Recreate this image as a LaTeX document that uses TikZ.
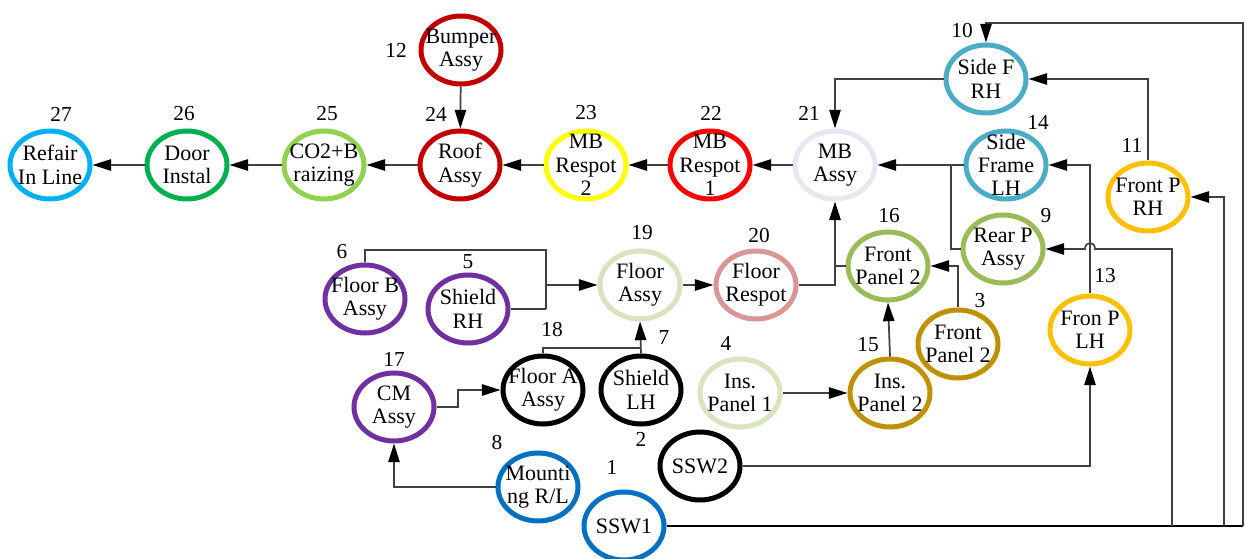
\documentclass[tikz,border=0pt]{standalone}
\usepackage{fontspec}
\setmainfont{Liberation Serif}
\usetikzlibrary{shapes.geometric,arrows.meta}
\definecolor{cCyan}{HTML}{00B0F0}
\definecolor{cGreen}{HTML}{00B050}
\definecolor{cLGreen}{HTML}{92D050}
\definecolor{cDRed}{HTML}{C00000}
\definecolor{cYellow}{HTML}{FFFF00}
\definecolor{cRed}{HTML}{FF0000}
\definecolor{cLav}{RGB}{232,230,240}
\definecolor{cTeal}{HTML}{4BACC6}
\definecolor{cOrange}{HTML}{FFC000}
\definecolor{cOlive}{HTML}{9BBB59}
\definecolor{cPale}{HTML}{D7E4BD}
\definecolor{cPink}{HTML}{D99694}
\definecolor{cPurple}{HTML}{7030A0}
\definecolor{cGold}{HTML}{BF9000}
\definecolor{cBlue}{HTML}{0070C0}
\definecolor{linegray}{HTML}{404040}
\begin{document}
\begin{tikzpicture}[x=0.75pt,y=-0.75pt,
  st/.style={ellipse, minimum width=60pt, minimum height=51pt, inner sep=0pt, line width=3.75pt},
  txt/.style={align=center, font=\fontsize{16.5}{17.5}\selectfont, inner sep=0pt},
  num/.style={font=\fontsize{16}{17}\selectfont, inner sep=0pt},
  conn/.style={draw=linegray, line width=1.3pt},
  arr/.style={conn, -{Triangle[length=14pt,width=8.5pt,color=black]}}]
\useasboundingbox (0,0) rectangle (1245,559);
\fill[white] (0,0) rectangle (1245,559);

% state ellipses
\node[st, draw=cCyan]   (n27) at (50,165) {};
\node[st, draw=cGreen]  (n26) at (187,165) {};
\node[st, draw=cLGreen] (n25) at (324,165) {};
\node[st, draw=cDRed]   (n24) at (460,165) {};
\node[st, draw=cDRed]   (n12) at (461,50) {};
\node[st, draw=cYellow] (n23) at (586,165) {};
\node[st, draw=cRed]    (n22) at (710,165) {};
\node[st, draw=cLav]    (n21) at (835,165) {};
\node[st, draw=cTeal]   (n10) at (986,79) {};
\node[st, draw=cTeal]   (n14) at (1006,165) {};
\node[st, draw=cOrange] (n11) at (1148,197) {};
\node[st, draw=cOlive]  (n9)  at (1003,249) {};
\node[st, draw=cOlive]  (n16) at (888,266) {};
\node[st, draw=cPale]   (n19) at (640,285) {};
\node[st, draw=cPink]   (n20) at (756,285) {};
\node[st, draw=cPurple] (n6)  at (365,299) {};
\node[st, draw=cPurple] (n5)  at (468,309) {};
\node[st, draw=cGold]   (n3)  at (958,344) {};
\node[st, draw=cOrange] (n13) at (1090,330) {};
\node[st, draw=cGold]   (n15) at (890,393) {};
\node[st, draw=cPale]   (n4)  at (740,393) {};
\node[st, draw=black]   (n18) at (543,390) {};
\node[st, draw=black]   (n7)  at (641,390) {};
\node[st, draw=cPurple] (n17) at (394,407) {};
\node[st, draw=cBlue]   (n8)  at (538,487) {};
\node[st, draw=black]   (n2)  at (700,466) {};
\node[st, draw=cBlue]   (n1)  at (624,526) {};

% texts
\node[txt] (t27) at (n27) {Refair\\In Line};
\node[txt] (t26) at (n26) {Door\\Instal};
\node[txt] (t25) at (n25) {CO2+B\\raizing};
\node[txt] (t24) at (n24) {Roof\\Assy};
\node[txt] (t12) at (n12) {Bumper\\Assy};
\node[txt] (t23) at (n23) {MB\\Respot\\2};
\node[txt] (t22) at (n22) {MB\\Respot\\1};
\node[txt] (t21) at (n21) {MB\\Assy};
\node[txt] (t10) at (n10) {Side F\\RH};
\node[txt] (t14) at (n14) {Side\\Frame\\LH};
\node[txt] (t11) at (n11) {Front P\\RH};
\node[txt] (t9)  at (n9)  {Rear P\\Assy};
\node[txt] (t16) at (n16) {Front\\Panel 2};
\node[txt] (t19) at (n19) {Floor\\Assy};
\node[txt] (t20) at (n20) {Floor\\Respot};
\node[txt] (t6)  at (n6)  {Floor B\\Assy};
\node[txt] (t5)  at (n5)  {Shield\\RH};
\node[txt] (t3)  at (n3)  {Front\\Panel 2};
\node[txt] (t13) at (n13) {Fron P\\LH};
\node[txt] (t15) at (n15) {Ins.\\Panel 2};
\node[txt] (t4)  at (n4)  {Ins.\\Panel 1};
\node[txt] (t18) at (n18) {Floor A\\Assy};
\node[txt] (t7)  at (n7)  {Shield\\LH};
\node[txt] (t17) at (n17) {CM\\Assy};
\node[txt] (t8)  at (n8)  {Mounti\\ng R/L};
\node[txt] (t2)  at (n2)  {SSW2};
\node[txt] (t1)  at (n1)  {SSW1};

% numbers
\node[num] (l27) at (61,114) {27};
\node[num] (l26) at (184,114) {26};
\node[num] (l25) at (327,114) {25};
\node[num] (l24) at (436,114) {24};
\node[num] (l12) at (396,50) {12};
\node[num] (l23) at (586,113) {23};
\node[num] (l22) at (711,113) {22};
\node[num] (l21) at (809,113) {21};
\node[num] (l10) at (962,31) {10};
\node[num] (l14) at (1038,122) {14};
\node[num] (l11) at (1132,145) {11};
\node[num] (l9)  at (1046,216) {9};
\node[num] (l16) at (889,216) {16};
\node[num] (l19) at (642,233) {19};
\node[num] (l20) at (759,236) {20};
\node[num] (l6)  at (342,252) {6};
\node[num] (l5)  at (468,262) {5};
\node[num] (l18) at (552,330) {18};
\node[num] (l7)  at (664,338) {7};
\node[num] (l17) at (394,359) {17};
\node[num] (l4)  at (726,343) {4};
\node[num] (l15) at (868,345) {15};
\node[num] (l3)  at (980,301) {3};
\node[num] (l13) at (1105,276) {13};
\node[num] (l8)  at (497,443) {8};
\node[num] (l2)  at (641,439) {2};
\node[num] (l1)  at (612,467) {1};

% junction coordinates
\coordinate (cBR) at (1243,526);
\coordinate (cTR) at (1243,23);
\coordinate (jA) at (1224,526);
\coordinate (jB) at (1172,526);
\coordinate (jB2) at (1172,249);
\coordinate (hR) at (1095,249);
\coordinate (hL) at (1085,249);
\coordinate (k9) at (951,249);
\coordinate (k9b) at (951,165);
\coordinate (k16) at (835,266);
\coordinate (k6) at (546,250);
\coordinate (k5) at (546,309);
\coordinate (k19) at (546,285);
\coordinate (k18a) at (543,348);
\coordinate (k18) at (641,348);
\coordinate (k17) at (458,407);

% main chain
\draw[arr] (n26) -- (n27);
\draw[arr] (n25) -- (n26);
\draw[arr] (n24) -- (n25);
\draw[arr] (n23) -- (n24);
\draw[arr] (n22) -- (n23);
\draw[arr] (n21) -- (n22);
\draw[arr] (n12) -- (n24);

% right part
\draw[arr] (n10.west) -| (n21.north);
\draw[arr] (n14.west) -- (n21.east);
\draw[conn] (n9.west) -- (k9) -- (k9b);
\draw[arr] (n11.north) |- (n10.east);
\draw[arr] (n13.north) |- (n14.east);
\draw[arr] (n2.east) -| (n13.south);
\draw[conn, draw=black, line width=1.6pt] (n1.east) -- (cBR);
\draw[arr] (cBR) -- (cTR) -| (n10.north);
\draw[arr] (jA) |- (n11.east);
\draw[arr] (jB) -- (jB2) -- (hR) .. controls (1095,241) and (1085,241) .. (hL) -- (n9.east);

% middle part
\draw[arr] (n20.east) -| (n21.south);
\draw[conn] (n16.west) -- (k16);
\draw[arr] (n3.north) |- (n16.east);
\draw[arr] (n15.north) -- (n16.south);
\draw[arr] (n4.east) -- (n15.west);
\draw[arr] (n19.east) -- (n20.west);

% left lower part
\draw[conn] (n6.north) |- (k6) -- (k5);
\draw[conn] (n5.east) -- (k5);
\draw[arr] (k19) -- (n19.west);
\draw[conn] (n18.north) -- (k18a) -- (k18);
\draw[arr] (n7.north) -- (n19.south);
\draw[arr] (n17.east) -- (k17) |- (n18.west);
\draw[arr] (n8.west) -| (n17.south);
\end{tikzpicture}
\end{document}
